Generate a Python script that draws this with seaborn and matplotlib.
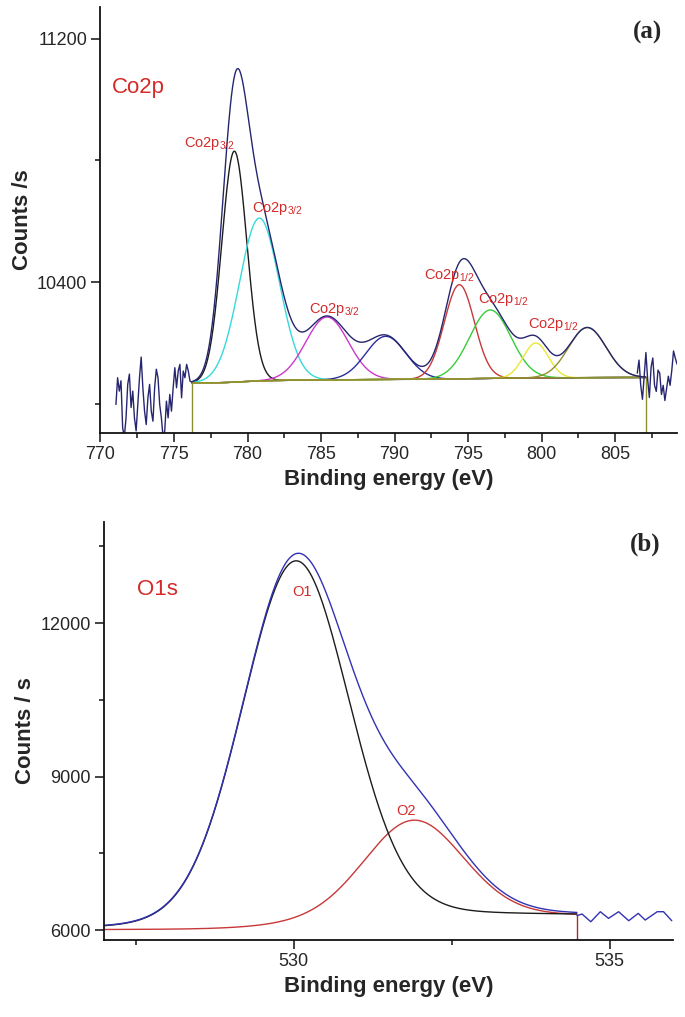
import numpy as np
import matplotlib
matplotlib.use("Agg")
import matplotlib.pyplot as plt
from matplotlib.ticker import MultipleLocator
import seaborn as sns

# ---------------- panel (a): Co2p ----------------
co_centers = [779.1, 780.8, 785.4, 789.4, 794.4, 796.5, 799.6, 803.1]
co_heights = [760, 536, 207, 142, 310, 225, 115, 165]
co_fwhm = [2.0, 3.2, 3.4, 3.2, 2.4, 3.3, 2.0, 3.0]
co_colors = ["#1c1c1c", "#35dada", "#cc38cc", "#2c2ca0", "#c83838", "#38cc38", "#e8e836", "#8f8f30"]
co_fit_range = [776.2, 807.08]
co_bg_ends = [10068, 10086]

# raw counts outside the fit window
co_left_start, co_left_stop = 771.05, 776.2
co_left_noise = [9997, 10085, 10041, 10075, 9920, 9890, 9953, 10063, 10097, 9987,
                 10041, 9953, 9910, 9997, 10085, 10153, 10052, 9975, 9931, 10019,
                 10063, 9975, 9942, 10052, 10113, 10085, 9997, 9953, 9890, 9910,
                 10008, 9953, 10030, 9975, 10052, 10118, 10052, 10107, 10129, 10019,
                 10107, 10085, 10129, 10107, 10074, 10071]
co_right_start, co_right_stop = 806.5, 809.2
co_right_noise = [10100, 10143, 10060, 10014, 10090, 10168, 10080, 10020, 10120, 10150,
                  10060, 10040, 10110, 10100, 10030, 10060, 10010, 10050, 10090, 10060,
                  10110, 10173, 10150, 10130]

co_labels = ["Co2p$_{\\mathregular{3/2}}$", "Co2p$_{\\mathregular{3/2}}$", "Co2p$_{\\mathregular{3/2}}$",
             "Co2p$_{\\mathregular{1/2}}$", "Co2p$_{\\mathregular{1/2}}$", "Co2p$_{\\mathregular{1/2}}$"]
co_label_x = [777.4, 782.0, 785.9, 793.7, 797.4, 800.8]
co_label_y = [10857, 10643, 10311, 10423, 10341, 10259]

# ---------------- panel (b): O1s ----------------
o_centers = [530.03, 531.9]
o_heights = [7100, 1900]
o_fwhm = [2.0, 1.85]
o_mix = [0.1, 0.1]
o_fit_range = [527.0, 534.48]
o_bg_ends = [6004, 6280]
o_noise_x = [534.48, 534.56, 534.70, 534.85, 534.98, 535.14, 535.30, 535.45, 535.56, 535.75, 535.85, 535.98]
o_noise_y = [6280, 6313, 6162, 6358, 6228, 6358, 6182, 6326, 6195, 6358, 6358, 6182]
o_labels = ["O1", "O2"]
o_label_x = [530.13, 531.78]
o_label_y = [12605, 8326]


def peak(x, c, h, w, m=0.0):
    d = (x - c) / w
    return h * ((1 - m) * np.exp(-4 * np.log(2) * d ** 2) + m / (1 + 4 * d ** 2))


def shirley(x, total, lo, hi):
    cum = np.concatenate([[0], np.cumsum((total[1:] + total[:-1]) / 2 * np.diff(x))])
    return lo + (hi - lo) * cum / cum[-1]


sns.set_style("ticks")
plt.rcParams["font.family"] = ["Liberation Sans", "DejaVu Sans"]
plt.rcParams["mathtext.fontset"] = "custom"
plt.rcParams["mathtext.rm"] = "Liberation Sans"
plt.rcParams["mathtext.it"] = "Liberation Sans:italic"
plt.rcParams["mathtext.bf"] = "Liberation Sans:bold"

red = "#d42a2a"
navy = "#262670"
olive = "#8f8f30"
lw = 1.0

fig = plt.figure(figsize=(6.85, 10.17), dpi=100)
ax1 = fig.add_axes([0.1467, 0.5742, 0.8416, 0.4189])
ax2 = fig.add_axes([0.1518, 0.0757, 0.8307, 0.4110])

# ---- panel a
xa = np.linspace(co_fit_range[0], co_fit_range[1], 800)
comps = [peak(xa, c, h, w) for c, h, w in zip(co_centers, co_heights, co_fwhm)]
bg_a = shirley(xa, np.sum(comps, axis=0), *co_bg_ends)
env_a = bg_a + np.sum(comps, axis=0)

for comp, col in zip(comps, co_colors):
    sns.lineplot(x=xa, y=bg_a + comp, ax=ax1, color=col, linewidth=lw, estimator=None, sort=False)
sns.lineplot(x=xa, y=bg_a, ax=ax1, color=olive, linewidth=lw, estimator=None, sort=False)
for xv, yv in [(xa[0], bg_a[0]), (xa[-1], bg_a[-1])]:
    sns.lineplot(x=[xv, xv], y=[9800, yv], ax=ax1, color=olive, linewidth=lw, estimator=None, sort=False)
sns.lineplot(x=xa, y=env_a, ax=ax1, color=navy, linewidth=lw, estimator=None, sort=False)
sns.lineplot(x=np.linspace(co_left_start, co_left_stop, len(co_left_noise)), y=co_left_noise,
             ax=ax1, color=navy, linewidth=lw, estimator=None, sort=False)
sns.lineplot(x=np.linspace(co_right_start, co_right_stop, len(co_right_noise)), y=co_right_noise,
             ax=ax1, color=navy, linewidth=lw, estimator=None, sort=False)

for t, x, y in zip(co_labels, co_label_x, co_label_y):
    ax1.text(x, y, t, color=red, fontsize=10.5, ha="center", va="center")
ax1.text(772.55, 11041, "Co2p", color=red, fontsize=16, ha="center", va="center")
ax1.text(0.948, 0.941, "(a)", transform=ax1.transAxes, fontsize=18, fontweight="bold",
         family="Liberation Serif", ha="center", va="center")

ax1.set_xlim(770, 809.2)
ax1.set_ylim(9903, 11305)
ax1.xaxis.set_major_locator(MultipleLocator(5))
ax1.xaxis.set_minor_locator(MultipleLocator(2.5))
ax1.yaxis.set_major_locator(MultipleLocator(800))
ax1.yaxis.set_minor_locator(MultipleLocator(400))
ax1.set_xlabel("Binding energy (eV)", fontsize=16, fontweight="bold", labelpad=4)
ax1.set_ylabel("Counts /s", fontsize=16, fontweight="bold", labelpad=3)

# ---- panel b
xb = np.linspace(o_fit_range[0], o_fit_range[1], 800)
ocomps = [peak(xb, c, h, w, m) for c, h, w, m in zip(o_centers, o_heights, o_fwhm, o_mix)]
bg_b = shirley(xb, np.sum(ocomps, axis=0), *o_bg_ends)
env_b = bg_b + np.sum(ocomps, axis=0)

sns.lineplot(x=xb, y=bg_b + ocomps[1], ax=ax2, color="#c83838", linewidth=lw, estimator=None, sort=False)
sns.lineplot(x=xb, y=bg_b + ocomps[0], ax=ax2, color="#1c1c1c", linewidth=lw, estimator=None, sort=False)
sns.lineplot(x=xb, y=env_b, ax=ax2, color="#3232b4", linewidth=lw, estimator=None, sort=False)
sns.lineplot(x=[xb[-1], xb[-1]], y=[5700, bg_b[-1]], ax=ax2, color="#a03030", linewidth=lw,
             estimator=None, sort=False)
sns.lineplot(x=o_noise_x, y=o_noise_y, ax=ax2, color="#3232b4", linewidth=lw, estimator=None, sort=False)

for t, x, y in zip(o_labels, o_label_x, o_label_y):
    ax2.text(x, y, t, color=red, fontsize=10.5, ha="center", va="center")
ax2.text(527.84, 12664, "O1s", color=red, fontsize=16, ha="center", va="center")
ax2.text(0.951, 0.947, "(b)", transform=ax2.transAxes, fontsize=18, fontweight="bold",
         family="Liberation Serif", ha="center", va="center")

ax2.set_xlim(527.0, 536.0)
ax2.set_ylim(5805, 13974)
ax2.xaxis.set_major_locator(MultipleLocator(5))
ax2.xaxis.set_minor_locator(MultipleLocator(2.5))
ax2.yaxis.set_major_locator(MultipleLocator(3000))
ax2.yaxis.set_minor_locator(MultipleLocator(1500))
ax2.set_xlabel("Binding energy (eV)", fontsize=16, fontweight="bold", labelpad=4)
ax2.set_ylabel("Counts / s", fontsize=16, fontweight="bold", labelpad=3)

for ax in (ax1, ax2):
    sns.despine(ax=ax)
    for s in ("left", "bottom"):
        ax.spines[s].set_linewidth(1.3)
        ax.spines[s].set_color("#111111")
    ax.tick_params(which="major", length=6.5, width=1.1, labelsize=13, pad=3, color="#111111")
    ax.tick_params(which="minor", length=3.5, width=1.1, color="#111111")

fig.savefig("out.png", dpi=100)
